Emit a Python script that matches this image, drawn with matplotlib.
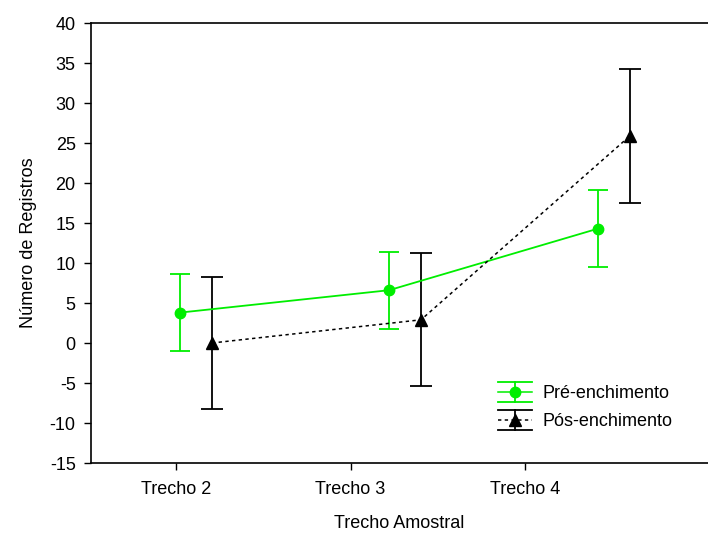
import matplotlib
matplotlib.use("Agg")
import matplotlib.pyplot as plt
from matplotlib.lines import Line2D
from matplotlib.legend_handler import HandlerBase

plt.rcParams['font.family'] = ['Liberation Sans', 'DejaVu Sans']
plt.rcParams['axes.unicode_minus'] = False

categories = ["Trecho 2", "Trecho 3", "Trecho 4"]
pre_mean = [3.8, 6.6, 14.3]
pre_err = [4.8, 4.8, 4.8]
pos_mean = [0.0, 2.9, 25.9]
pos_err = [8.3, 8.3, 8.4]
yticks = list(range(-15, 45, 5))
labels = ['Pré-enchimento', 'Pós-enchimento']

FS = 13
green = '#00ee00'

fig = plt.figure(figsize=(7.08, 5.34), dpi=100)
ax = fig.add_axes([91/708, 71/534, 1 - 91/708, (463-23)/534])

tick_x = [1, 2, 3]
step = 1.198
pre_x = [1.023 + step*i for i in range(3)]
pos_x = [1.206 + step*i for i in range(3)]

ax.errorbar(pre_x, pre_mean, yerr=pre_err, color=green, marker='o', markersize=7.5,
            linewidth=1.3, elinewidth=1.3, capsize=7.5, capthick=1.3)
ax.errorbar(pos_x, pos_mean, yerr=pos_err, color='black', marker='^', markersize=8,
            linestyle=(0, (2.2, 2.2)), linewidth=1.1, elinewidth=1.3, capsize=8, capthick=1.3)

ax.set_xlim(1 + (91-176)/174.5, 1 + (708-176)/174.5)
ax.set_ylim(-15, 40)
ax.set_xticks(tick_x)
ax.set_xticklabels(categories)
ax.set_yticks(yticks)
ax.tick_params(axis='both', direction='out', length=5, width=1, labelsize=FS)
ax.tick_params(axis='x', pad=8)
ax.tick_params(axis='y', pad=6)
for s in ['left', 'bottom', 'top']:
    ax.spines[s].set_linewidth(1.2)
ax.spines['right'].set_visible(False)

ax.set_ylabel('Número de Registros', fontsize=FS, labelpad=9)
ax.set_xlabel('Trecho Amostral', fontsize=FS, labelpad=12)


class ErrHandler(HandlerBase):
    def __init__(self, color, marker, ms, ls):
        super().__init__()
        self.color, self.marker, self.ms, self.ls = color, marker, ms, ls

    def create_artists(self, legend, orig_handle, xdescent, ydescent, width, height, fontsize, trans):
        x0, x1 = -xdescent, -xdescent + width
        yc = -ydescent + height / 2
        d = 0.78 * height
        arts = [
            Line2D([x0, x1], [yc + d, yc + d], color=self.color, lw=1.3),
            Line2D([x0, x1], [yc - d, yc - d], color=self.color, lw=1.3),
            Line2D([(x0 + x1) / 2] * 2, [yc - d, yc + d], color=self.color, lw=1.3),
            Line2D([x0, x1], [yc, yc], color=self.color, lw=1.1, linestyle=self.ls),
            Line2D([(x0 + x1) / 2], [yc], color=self.color, marker=self.marker,
                   markersize=self.ms, linestyle='none'),
        ]
        for a in arts:
            a.set_transform(trans)
        return arts


h1 = Line2D([], [], color=green)
h2 = Line2D([], [], color='black')
ax.legend([h1, h2], labels, loc='lower left', bbox_to_anchor=(0.633, 0.038), frameon=False,
          fontsize=FS, handlelength=1.9, handletextpad=0.55, labelspacing=0.6,
          handler_map={h1: ErrHandler(green, 'o', 7.5, '-'),
                       h2: ErrHandler('black', '^', 8, (0, (2.2, 2.2)))})

fig.savefig('out.png', dpi=100)
